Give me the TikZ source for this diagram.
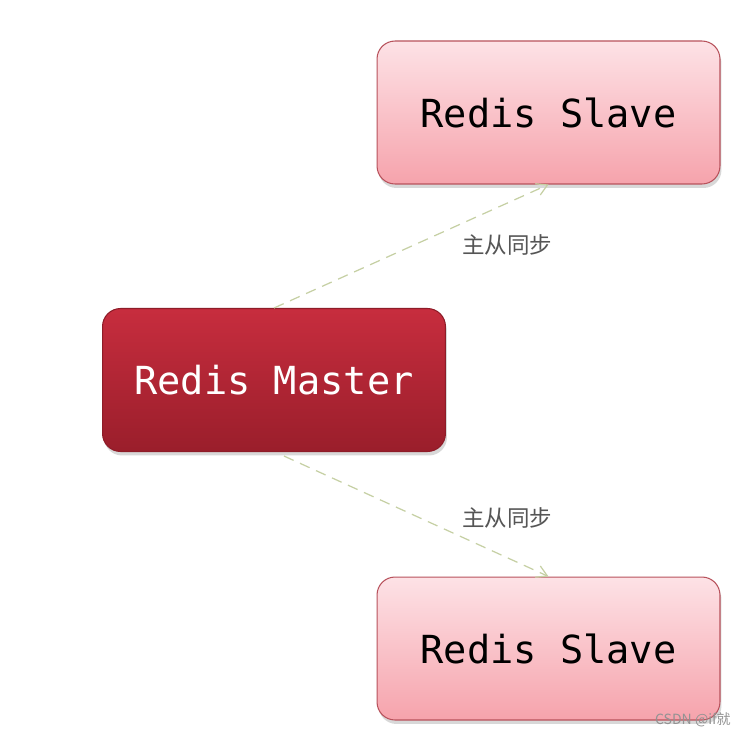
\documentclass[tikz,border=0pt]{standalone}
\usepackage{fontspec}
\setmonofont{DejaVu Sans Mono}
\newfontfamily\cjk{Noto Sans CJK SC}
\usetikzlibrary{shadows,arrows.meta}
\definecolor{slavetop}{HTML}{FDE2E6}
\definecolor{slavebot}{HTML}{F6A3AC}
\definecolor{slaveline}{HTML}{B8525C}
\definecolor{mastertop}{HTML}{C72D3E}
\definecolor{masterbot}{HTML}{9A1E2B}
\definecolor{masterline}{HTML}{8E1C28}
\definecolor{syncline}{HTML}{C6D0A4}
\definecolor{labelgray}{HTML}{555555}
\begin{document}
\begin{tikzpicture}[x=0.02cm,y=-0.02cm,
    box/.style={rounded corners=0.36cm,minimum width=6.86cm,minimum height=2.86cm,
      line width=0.6pt,font=\ttfamily\fontsize{22}{26}\selectfont,
      drop shadow={opacity=0.3,shadow xshift=0.03cm,shadow yshift=-0.08cm}},
    slave/.style={box,draw=slaveline,top color=slavetop,bottom color=slavebot,text=black},
    master/.style={box,draw=masterline,top color=mastertop,bottom color=masterbot,text=white},
    sync/.style={draw=syncline,line width=0.7pt,dash pattern=on 6pt off 4pt,-{Straight Barb[length=6pt,width=7pt]}},
    lbl/.style={font=\cjk\fontsize{12.8}{15}\selectfont,text=labelgray}]
  \useasboundingbox[fill=white] (0,0) rectangle (744,735);
  \node[master] (master) at (274,380) {Redis Master};
  \node[slave] (slave1) at (548.5,112.5) {Redis Slave};
  \node[slave] (slave2) at (548.5,648.5) {Redis Slave};
  \draw[sync] (master.north) -- (slave1.south);
  \draw[sync] ([xshift=0.2cm,yshift=-0.08cm]master.south) -- (slave2.north);
  \node[lbl] (sync1) at (507,245) {主从同步};
  \node[lbl] (sync2) at (507,518) {主从同步};
  \node[font=\cjk\fontsize{8}{10}\selectfont,text=gray!85,anchor=east] (mark) at (737,720) {CSDN @if就};
\end{tikzpicture}
\end{document}
